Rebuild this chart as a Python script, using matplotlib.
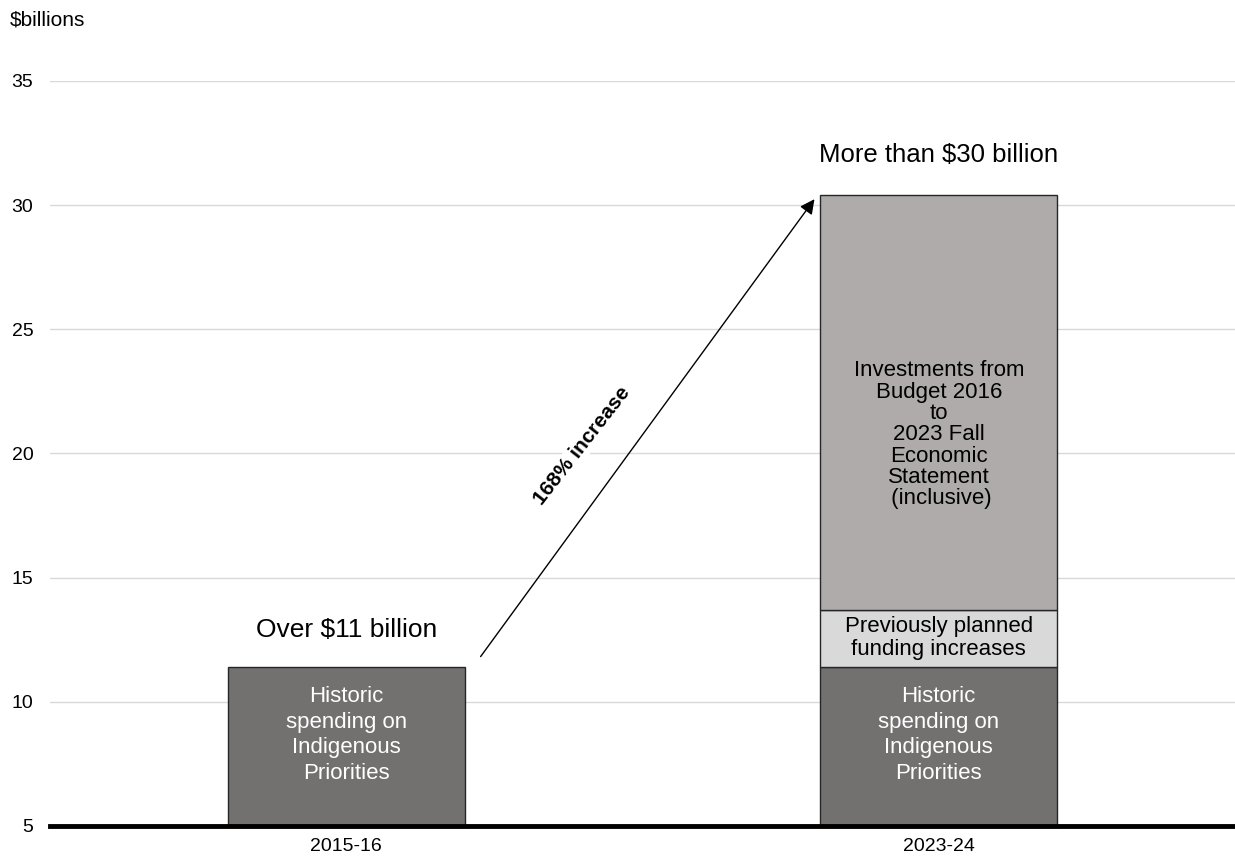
import numpy as np
import matplotlib.pyplot as plt

plt.rcParams['font.family'] = ['Liberation Sans', 'DejaVu Sans']

years = ['2015-16', '2023-24']
historic = [11.4, 11.4]
planned = [0, 2.3]
budget_investments = [0, 16.7]

c_dark = '#737070'
c_light = '#D9D9D9'
c_mid = '#AEABAA'

fig = plt.figure(figsize=(12.35, 8.61), dpi=100)
ax = fig.add_axes([0.0405, 0.0407, 0.9595, 0.8653])

x = np.arange(len(years))
base = 5
ax.bar(x, np.array(historic) - base, 0.4, bottom=base, color=c_dark, edgecolor='#262626', linewidth=1, zorder=3)
ax.bar(x[1], planned[1], 0.4, bottom=historic[1], color=c_light, edgecolor='#262626', linewidth=1, zorder=3)
ax.bar(x[1], budget_investments[1], 0.4, bottom=historic[1] + planned[1], color=c_mid, edgecolor='#262626', linewidth=1, zorder=3)

ax.set_xlim(-0.5, 1.5)
ax.set_ylim(5, 35)
ax.set_yticks([5, 10, 15, 20, 25, 30, 35])
ax.set_xticks(x)
ax.set_xticklabels(years)
ax.tick_params(axis='both', length=0, labelsize=14)
ax.tick_params(axis='y', pad=12)
ax.tick_params(axis='x', pad=9)
ax.grid(axis='y', color='#D9D9D9', linewidth=1, zorder=0)
for s in ['top', 'right', 'left']:
    ax.spines[s].set_visible(False)
ax.spines['bottom'].set_linewidth(3.5)
ax.spines['bottom'].set_zorder(5)

fig.text(0.008, 0.977, '$billions', fontsize=15, va='center', ha='left')

# bar labels
for xi in x:
    ax.text(xi, 8.66, 'Historic\nspending on\nIndigenous\nPriorities', color='white', fontsize=16,
            ha='center', va='center', zorder=4, linespacing=1.3)
ax.text(x[1], historic[1] + planned[1] / 2, 'Previously planned\nfunding increases', fontsize=16,
        ha='center', va='center', zorder=4, linespacing=1.12)
ax.text(x[1], 20.75, 'Investments from\nBudget 2016\nto\n2023 Fall\nEconomic\nStatement\n (inclusive)', fontsize=16,
        ha='center', va='center', zorder=4, linespacing=1.02)

ax.text(x[0], 12.9, 'Over $11 billion', fontsize=19, ha='center', va='center')
ax.text(x[1], 32.0, 'More than $30 billion', fontsize=18.5, ha='center', va='center')

# growth arrow
ax.annotate('', xy=(0.793, 30.33), xytext=(0.224, 11.73),
            arrowprops=dict(arrowstyle='-|>', color='black', lw=1, mutation_scale=22), zorder=4)
ax.text(0.398, 20.3, '168% increase', fontsize=15, fontweight='bold', rotation=52,
        ha='center', va='center', rotation_mode='anchor',
        bbox=dict(facecolor='white', edgecolor='none', pad=1), zorder=3)

fig.savefig('out.png', dpi=100)
